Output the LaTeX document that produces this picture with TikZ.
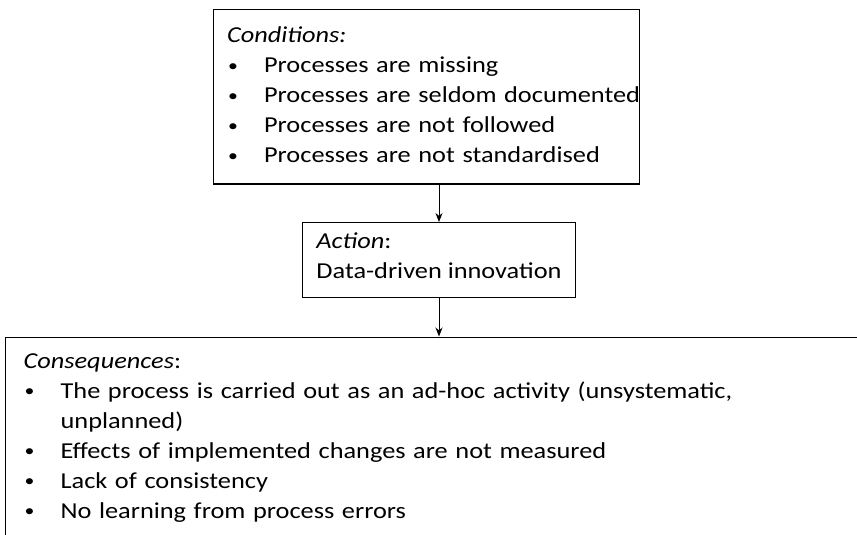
\documentclass[tikz,border=0pt]{standalone}
\usepackage{fontspec}
\setmainfont{Carlito}[FakeStretch=1.155]
\usetikzlibrary{positioning,arrows.meta}
\newcommand{\bitem}[1]{\mbox{\makebox[37pt][l]{\hspace{1pt}\raisebox{1.7pt}{\scalebox{0.75}{\textbullet}}}#1}}

\begin{document}
\begin{tikzpicture}[x=1pt,y=-1pt,
        box/.style={draw,line width=1.2pt,align=left,inner xsep=14pt,inner ysep=10pt,
                    font=\fontsize{22.8}{30}\selectfont,
                    execute at begin node=\strut,execute at end node=\strut},
        flow/.style={line width=0.9pt,-{Stealth[length=9pt,width=7pt]}}
    ]
        \path[use as bounding box,fill=white] (0,0) rectangle (857,535);
        \clip (0,0) rectangle (857,535);
        \node[box,anchor=north west,text width=398.5pt,minimum height=174pt] (cond) at (212.5,9.3) {
            \textit{Conditions:}\\
            \bitem{Processes are missing}\\
            \bitem{Processes are seldom documented}\\
            \bitem{Processes are not followed}\\
            \bitem{Processes are not standardised}
        };
        \node[box,anchor=north,inner xsep=14pt] (act) at (439,222) {
            \textit{Action}:\\
            Data-driven innovation
        };
        \node[box,anchor=north west,inner xsep=18pt,text width=900pt] (cons) at (5,336.5) {
            \textit{Consequences}:\\
            \bitem{The process is carried out as an ad-hoc activity (unsystematic,}\\
            \hspace*{37pt}unplanned)\\
            \bitem{Effects of implemented changes are not measured}\\
            \bitem{Lack of consistency}\\
            \bitem{No learning from process errors}
        };
        \draw[flow] (cond.south -| act.north) -- (act.north);
        \draw[flow] (act.south) -- (act.south |- cons.north);
    \end{tikzpicture}
\end{document}
